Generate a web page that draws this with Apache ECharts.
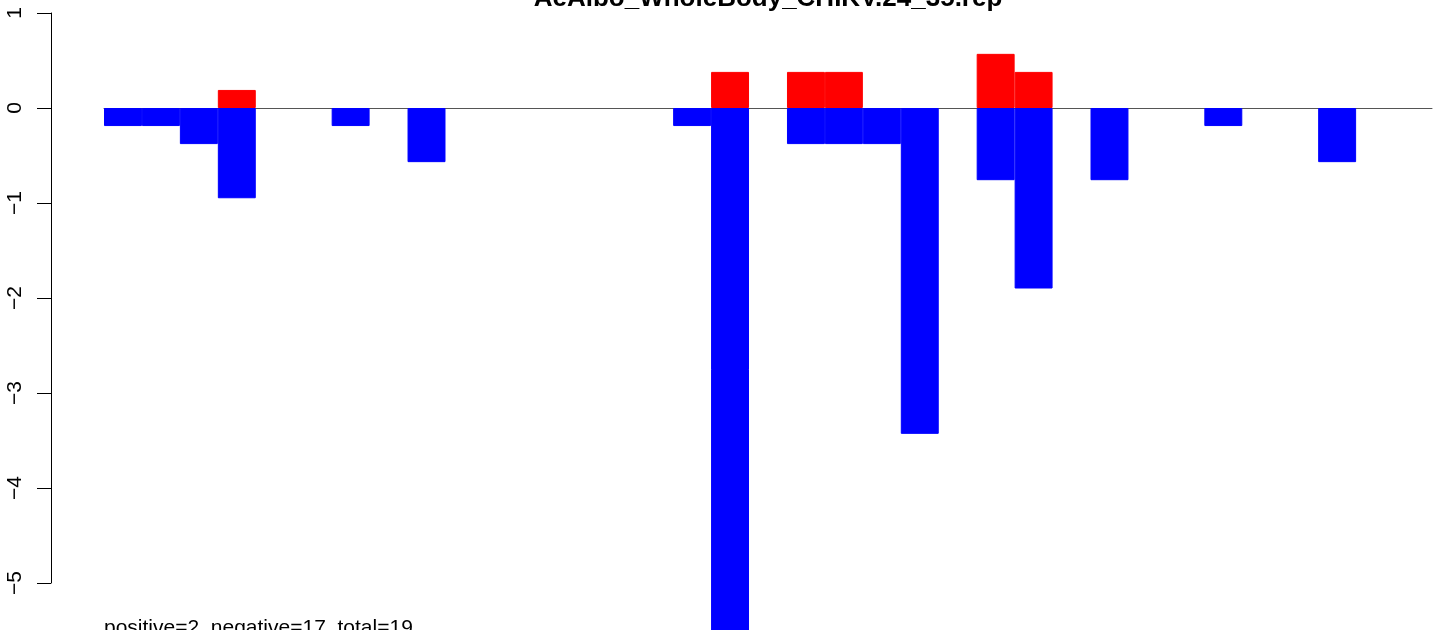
<!DOCTYPE html>
<html><head><meta charset="utf-8">
<script src="https://cdn.jsdelivr.net/npm/echarts@6/dist/echarts.min.js"></script>
<style>html,body{margin:0;padding:0;background:#fff}#c{width:1441px;height:630px}</style>
</head><body><div id="c"></div>
<script>
const title = "AeAlbo_WholeBody_CHIKV.24_35.rep";
const note = "positive=2, negative=17, total=19";
const categories = Array.from({length: 35}, (_, i) => String(i + 1));
const positive = [0,0,0,0.19,0,0,0,0,0,0,0,0,0,0,0,0,0.38,0,0.38,0.38,0,0,0,0.57,0.38,0,0,0,0,0,0,0,0,0,0];
const negative = [-0.19,-0.19,-0.38,-0.95,0,0,-0.19,0,-0.57,0,0,0,0,0,0,-0.19,-5.7,0,-0.38,-0.38,-0.38,-3.43,0,-0.76,-1.9,0,-0.76,0,0,-0.19,0,0,-0.57,0,0];
const yTicks = [-5,-4,-3,-2,-1,0,1];

const nz = arr => arr.map(v => (v === 0 ? '-' : v));

const chart = echarts.init(document.getElementById('c'), null, {renderer: 'canvas'});
chart.setOption({
  animation: false,
  backgroundColor: '#fff',
  graphic: [
    {type: 'text', x: 768, y: -1, z: 10,
     style: {text: title, font: 'bold 26px "Liberation Sans"', fill: '#000', textAlign: 'center', textVerticalAlign: 'middle'}},
    {type: 'text', x: 104, y: 628, z: 10,
     style: {text: note, font: '21px "Liberation Sans"', fill: '#000', textAlign: 'left', textVerticalAlign: 'middle'}}
  ],
  grid: {left: 104, width: 1328, top: 13, height: 570},
  xAxis: {
    type: 'category', data: categories, boundaryGap: true,
    axisLine: {show: true, onZero: true, lineStyle: {color: '#555', width: 1}},
    axisTick: {show: false}, axisLabel: {show: false}, splitLine: {show: false}
  },
  yAxis: {
    type: 'value', min: yTicks[0], max: yTicks[yTicks.length - 1], interval: 1,
    offset: 53,
    axisLine: {show: true, lineStyle: {color: '#000', width: 1}},
    axisTick: {show: true, length: 14, lineStyle: {color: '#000'}},
    axisLabel: {rotate: 90, margin: 25, fontFamily: 'Liberation Sans', fontSize: 21, color: '#000',
      formatter: v => String(v).replace('-', '\u2212')},
    splitLine: {show: false}
  },
  series: [
    {type: 'bar', name: 'negative', data: nz(negative), barWidth: '100%', barGap: '-100%', clip: false,
     itemStyle: {color: '#0000ff', borderColor: '#0000ff', borderWidth: 1}, z: 1},
    {type: 'bar', name: 'positive', data: nz(positive), barWidth: '100%', barGap: '-100%', clip: false,
     itemStyle: {color: '#ff0000', borderColor: '#ff0000', borderWidth: 1}, z: 1}
  ]
});
</script></body></html>
